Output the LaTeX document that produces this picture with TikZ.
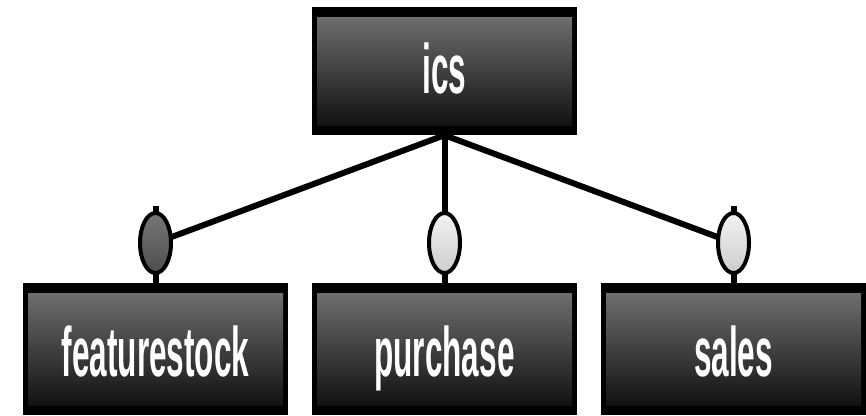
\documentclass[tikz,border=0pt]{standalone}
\usepackage{fontspec}
\setmainfont{Liberation Sans}
\usetikzlibrary{calc,shapes.geometric,backgrounds}
\definecolor{gtop}{RGB}{118,118,118}
\definecolor{gbot}{RGB}{10,10,10}
\definecolor{dtop}{RGB}{118,118,118}
\definecolor{dbot}{RGB}{78,78,78}
\definecolor{ltop}{RGB}{242,242,242}
\definecolor{lbot}{RGB}{205,205,205}
\newcommand{\lbl}[1]{\scalebox{0.45}[1]{#1}}
\begin{document}
\begin{tikzpicture}[x=1pt,y=-1pt,
  box/.style={rectangle, fill=black, inner sep=0pt, minimum width=265pt,
    minimum height=128pt, text=white, font=\fontsize{70}{70}\selectfont\bfseries,
    text depth=0pt,
    path picture={\shade[top color=gtop,bottom color=gbot]
      ($(path picture bounding box.north west)+(5pt,-10pt)$) rectangle
      ($(path picture bounding box.south east)+(-5pt,10pt)$);}},
  conn/.style={line width=6pt, line cap=butt, draw=black},
  port/.style={ellipse, draw=black, line width=4pt, minimum width=31pt,
    minimum height=60pt, inner sep=0pt},
  darkport/.style={port, top color=dtop, bottom color=dbot},
  lightport/.style={port, top color=ltop, bottom color=lbot}]
\useasboundingbox (0,0) rectangle (866,415);
\node[box, text height=44pt] (ics) at (444.5,71) {\lbl{ics}};
\node[box, minimum height=132pt, text height=54pt] (fs) at (155.5,349) {\lbl{featurestock}};
\node[box, minimum height=132pt, text height=54pt] (pu) at (444.5,349) {\lbl{purchase}};
\node[box, minimum height=132pt, text height=54pt] (sa) at (733.5,349) {\lbl{sales}};
\node[darkport] (e1) at (155.5,243) {};
\node[lightport] (e2) at (444.5,243) {};
\node[lightport] (e3) at (733.5,243) {};
\begin{scope}[on background layer]
\draw[conn] (ics.south) -- (e1.center);
\draw[conn] (ics.south) -- (e2.center);
\draw[conn] (ics.south) -- (e3.center);
\draw[conn] ($(e1.north)+(0,-5)$) -- (fs.north);
\draw[conn] (e2.center) -- (pu.north);
\draw[conn] ($(e3.north)+(0,-5)$) -- (sa.north);
\end{scope}
\end{tikzpicture}
\end{document}
